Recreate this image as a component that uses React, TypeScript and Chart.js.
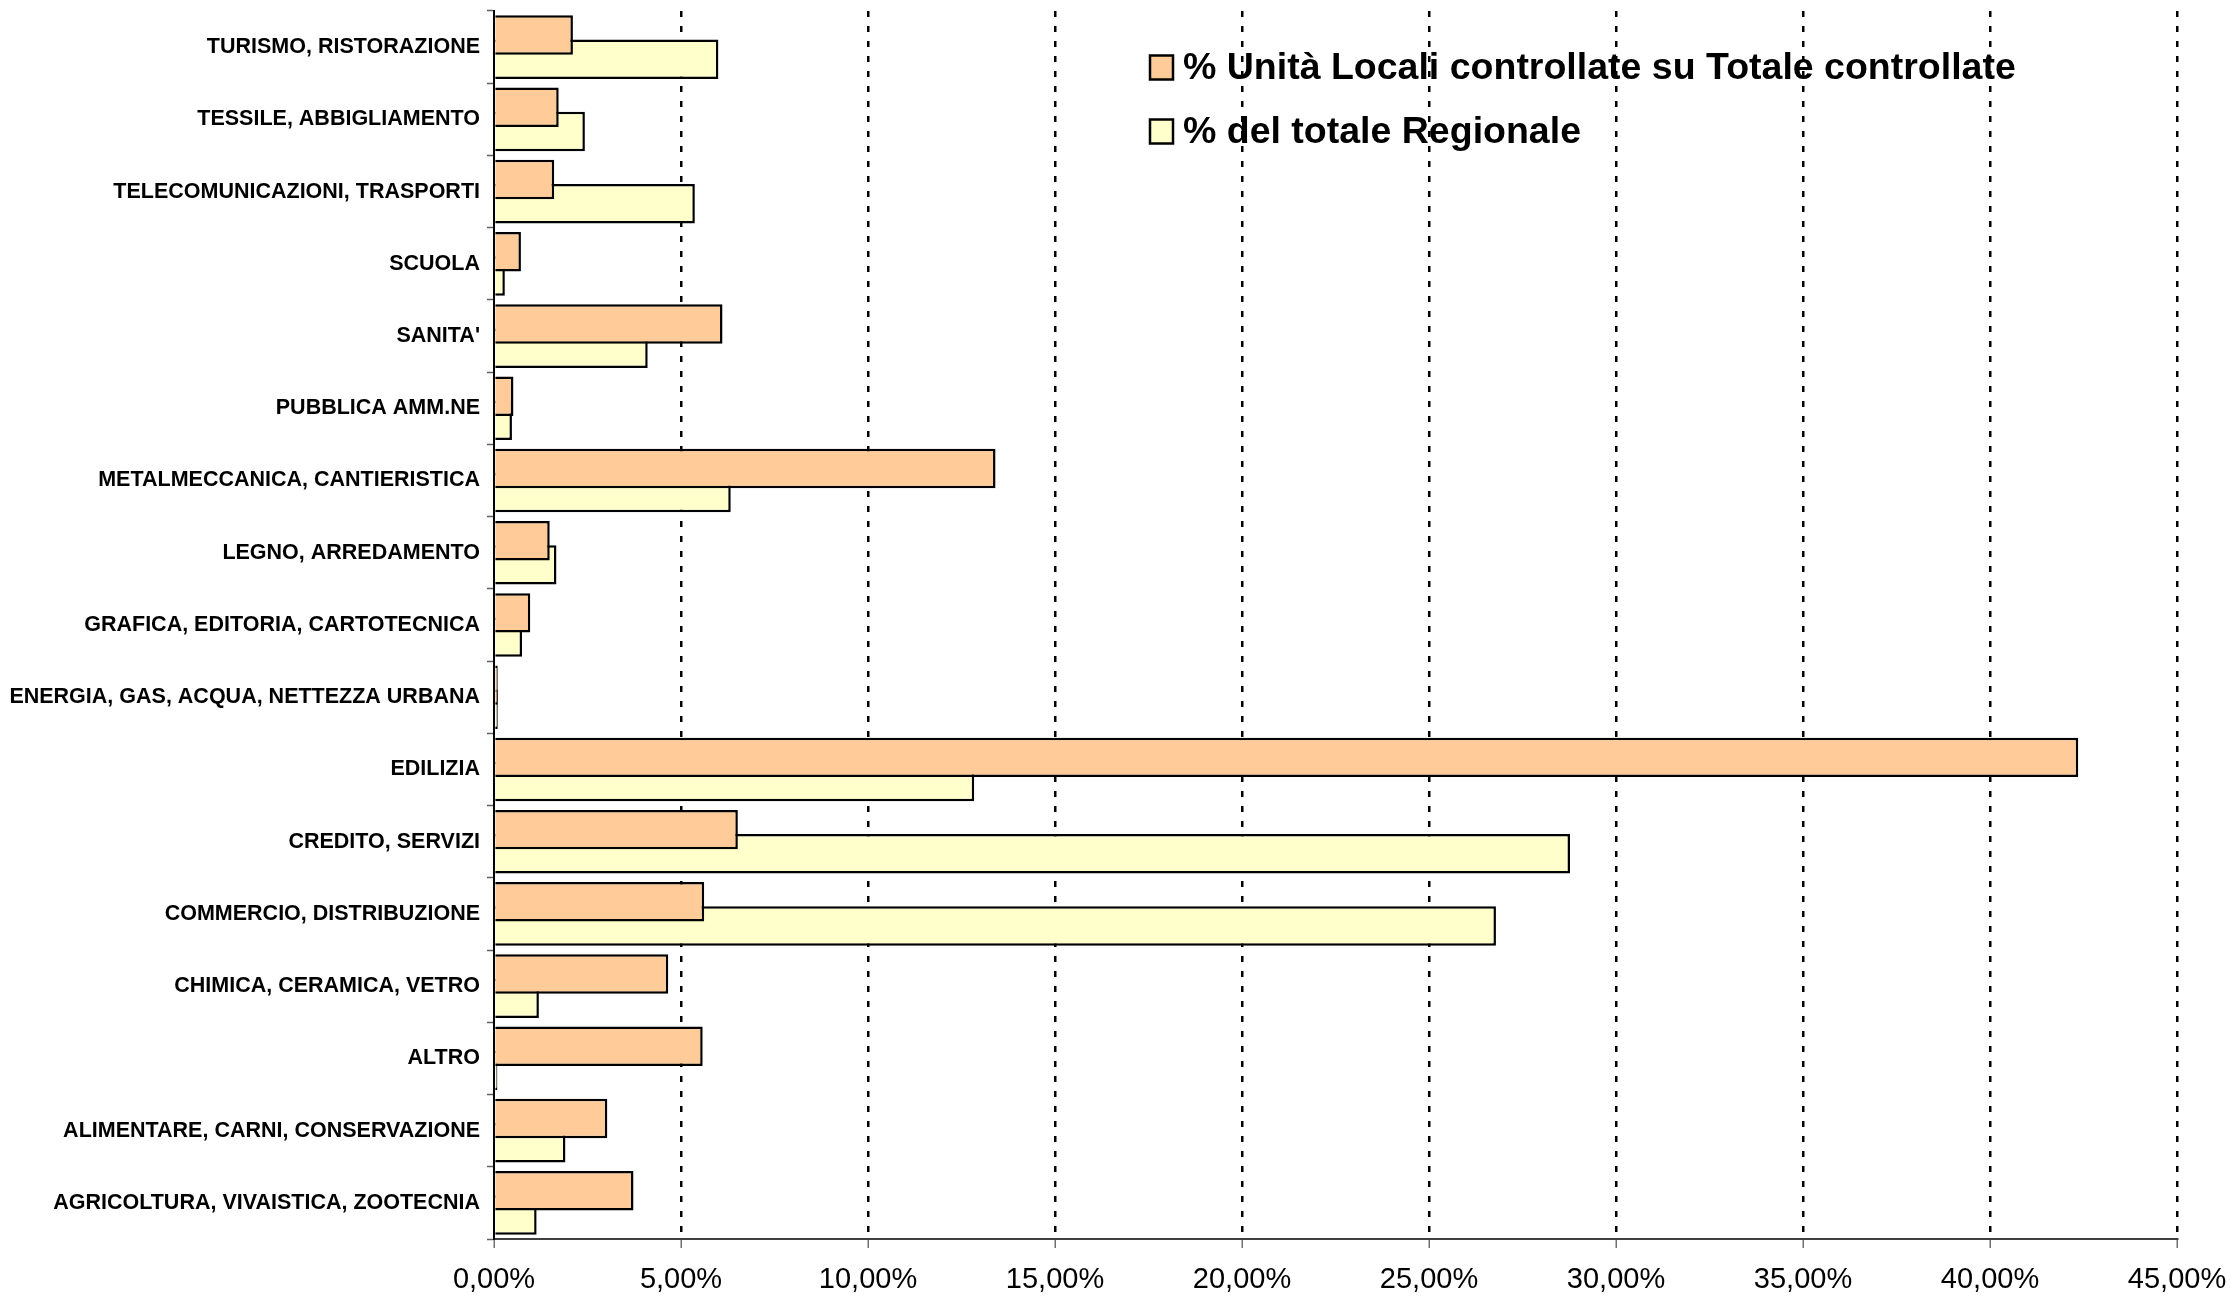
import React, { useEffect, useRef } from 'react';
import { Chart, registerables } from 'chart.js';

Chart.register(...registerables);

const categories: string[] = [
  'TURISMO, RISTORAZIONE',
  'TESSILE, ABBIGLIAMENTO',
  'TELECOMUNICAZIONI, TRASPORTI',
  'SCUOLA',
  "SANITA'",
  'PUBBLICA AMM.NE',
  'METALMECCANICA, CANTIERISTICA',
  'LEGNO, ARREDAMENTO',
  'GRAFICA, EDITORIA, CARTOTECNICA',
  'ENERGIA, GAS, ACQUA, NETTEZZA URBANA',
  'EDILIZIA',
  'CREDITO, SERVIZI',
  'COMMERCIO, DISTRIBUZIONE',
  'CHIMICA, CERAMICA, VETRO',
  'ALTRO',
  'ALIMENTARE, CARNI, CONSERVAZIONE',
  'AGRICOLTURA, VIVAISTICA, ZOOTECNIA',
];

const controllate: number[] = [
  2.11, 1.73, 1.61, 0.72, 6.11, 0.52, 13.41, 1.49, 0.97, 0.1, 42.36, 6.52, 5.62, 4.66, 5.58, 3.03, 3.73,
];

const regionale: number[] = [
  6.0, 2.43, 5.37, 0.29, 4.11, 0.48, 6.33, 1.67, 0.75, 0.1, 12.84, 28.77, 26.79, 1.2, 0.09, 1.91, 1.14,
];

const seriesNames: string[] = [
  '% Unità Locali controllate su Totale controllate',
  '% del totale Regionale',
];

const seriesColors: string[] = ['#FFCC99', '#FFFFCC'];

const xMin = 0;
const xMax = 45;
const xStep = 5;

const FONT = 'Arial, "Liberation Sans", sans-serif';

export default function App() {
  const ref = useRef<HTMLCanvasElement>(null);

  useEffect(() => {
    if (!ref.current) return;

    const insideLegend = {
      id: 'insideLegend',
      afterDraw(chart: any) {
        const { ctx } = chart;
        ctx.save();
        ctx.font = `bold 37.5px ${FONT}`;
        ctx.textBaseline = 'middle';
        ctx.textAlign = 'left';
        chart.data.datasets.forEach((ds: any, i: number) => {
          const cy = 67.5 + i * 64;
          const bx = 1150;
          const bw = 23;
          const bh = 24;
          ctx.fillStyle = ds.backgroundColor;
          ctx.fillRect(bx, cy - bh / 2, bw, bh);
          ctx.lineWidth = 2.5;
          ctx.strokeStyle = '#000';
          ctx.strokeRect(bx, cy - bh / 2, bw, bh);
          ctx.fillStyle = '#000';
          ctx.fillText(ds.label, 1183, cy + 1);
        });
        ctx.restore();
      },
    };

    const chart = new Chart(ref.current, {
      type: 'bar',
      data: {
        labels: categories,
        datasets: [
          {
            label: seriesNames[0],
            data: controllate,
            backgroundColor: seriesColors[0],
            borderColor: '#000',
            borderWidth: 2.5,
            categoryPercentage: 0.67,
            barPercentage: 1.63,
          },
          {
            label: seriesNames[1],
            data: regionale,
            backgroundColor: seriesColors[1],
            borderColor: '#000',
            borderWidth: 2.5,
            categoryPercentage: 0.67,
            barPercentage: 1.63,
          },
        ],
      },
      options: {
        indexAxis: 'y',
        animation: false,
        responsive: false,
        maintainAspectRatio: false,
        devicePixelRatio: 1,
        layout: { padding: { top: 11, right: 57, left: 0, bottom: 0 } },
        plugins: {
          legend: { display: false },
          tooltip: { enabled: false },
        },
        scales: {
          x: {
            type: 'linear',
            min: xMin,
            max: xMax,
            afterFit: (scale: any) => {
              scale.height = 59;
              scale.paddingLeft = 0;
              scale.paddingRight = 0;
            },
            ticks: {
              stepSize: xStep,
              color: '#000',
              padding: 15,
              font: { family: FONT, size: 29 },
              callback: (v: any) => Number(v).toFixed(2).replace('.', ',') + '%',
            },
            grid: {
              color: (c: any) => (c.tick && c.tick.value === 0 ? 'rgba(0,0,0,0)' : '#000'),
              lineWidth: 2.5,
              drawTicks: true,
              tickLength: 9,
              tickColor: '#707070',
              tickWidth: 1.5,
              tickBorderDash: [],
            },
            border: { display: true, color: '#404040', width: 2, dash: [6, 9] },
          },
          y: {
            type: 'category',
            afterFit: (scale: any) => {
              scale.width = 494;
              scale.paddingTop = 0;
              scale.paddingBottom = 0;
            },
            ticks: {
              color: '#000',
              padding: 7,
              autoSkip: false,
              font: { family: FONT, size: 21.5, weight: 'bold' },
            },
            grid: {
              drawOnChartArea: false,
              drawTicks: true,
              tickLength: 7,
              tickColor: '#606060',
              tickWidth: 1.5,
              offset: true,
            },
            border: { display: true, color: '#000', width: 2 },
          },
        },
      },
      plugins: [insideLegend],
    } as any);

    return () => chart.destroy();
  }, []);

  return (
    <div style={{ position: 'fixed', left: 0, top: 0, width: 2234, height: 1298, background: '#fff' }}>
      <canvas ref={ref} width={2234} height={1298} style={{ display: 'block', width: 2234, height: 1298 }} />
    </div>
  );
}
